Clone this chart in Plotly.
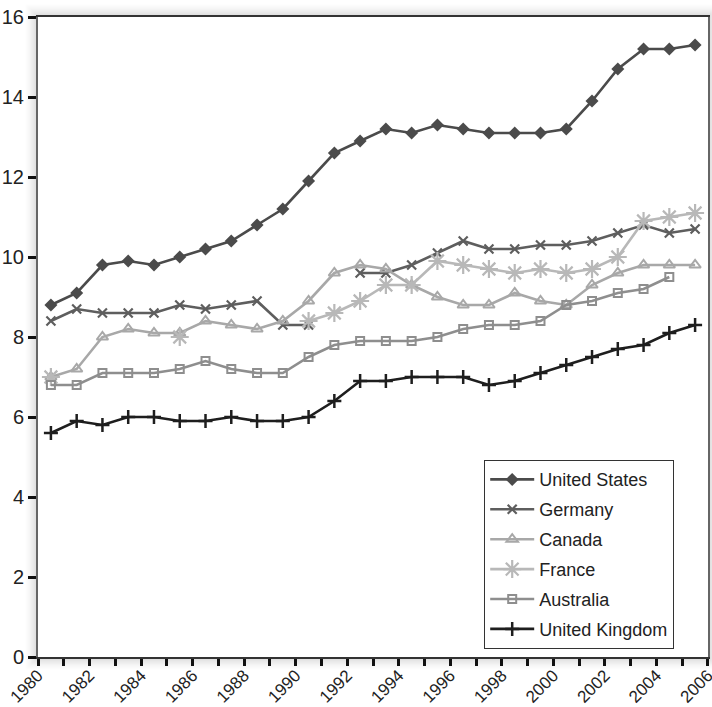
import plotly.graph_objects as go

years = list(range(1980, 2006))

united_states = [8.8, 9.1, 9.8, 9.9, 9.8, 10.0, 10.2, 10.4, 10.8, 11.2, 11.9, 12.6, 12.9,
                 13.2, 13.1, 13.3, 13.2, 13.1, 13.1, 13.1, 13.2, 13.9, 14.7, 15.2, 15.2, 15.3]
germany = [8.4, 8.7, 8.6, 8.6, 8.6, 8.8, 8.7, 8.8, 8.9, 8.3, 8.3, None, 9.6,
           9.6, 9.8, 10.1, 10.4, 10.2, 10.2, 10.3, 10.3, 10.4, 10.6, 10.8, 10.6, 10.7]
canada = [7.0, 7.2, 8.0, 8.2, 8.1, 8.1, 8.4, 8.3, 8.2, 8.4, 8.9, 9.6, 9.8,
          9.7, 9.3, 9.0, 8.8, 8.8, 9.1, 8.9, 8.8, 9.3, 9.6, 9.8, 9.8, 9.8]
france = [7.0, None, None, None, None, 8.0, None, None, None, None, 8.4, 8.6, 8.9,
          9.3, 9.3, 9.9, 9.8, 9.7, 9.6, 9.7, 9.6, 9.7, 10.0, 10.9, 11.0, 11.1]
australia = [6.8, 6.8, 7.1, 7.1, 7.1, 7.2, 7.4, 7.2, 7.1, 7.1, 7.5, 7.8, 7.9,
             7.9, 7.9, 8.0, 8.2, 8.3, 8.3, 8.4, 8.8, 8.9, 9.1, 9.2, 9.5, None]
united_kingdom = [5.6, 5.9, 5.8, 6.0, 6.0, 5.9, 5.9, 6.0, 5.9, 5.9, 6.0, 6.4, 6.9,
                  6.9, 7.0, 7.0, 7.0, 6.8, 6.9, 7.1, 7.3, 7.5, 7.7, 7.8, 8.1, 8.3]

tick_years = list(range(1980, 2007, 2))

# points sit at the centre of each year's category slot
xpos = [y + 0.5 for y in years]

series = [
    ("United States", united_states, "#4b4b4b", "diamond", 10, 0),
    ("Germany", germany, "#5e5e5e", "x-thin", 9, 2.2),
    ("Canada", canada, "#a8a8a8", "triangle-up-open", 10, 2),
    ("France", france, "#b8b8b8", "asterisk-open", 15, 2.2),
    ("Australia", australia, "#8e8e8e", "square-open", 8, 2),
    ("United Kingdom", united_kingdom, "#1e1e1e", "cross-thin", 10, 2.5),
]

fig = go.Figure()
for i, (name, vals, col, sym, size, mlw) in enumerate(series):
    fig.add_trace(go.Scatter(
        x=xpos, y=vals, name=name, mode="lines+markers",
        line=dict(color=col, width=2.6),
        marker=dict(symbol=sym, size=size, color=col,
                    line=dict(color=col, width=mlw)),
        connectgaps=False, legendgroup=f"g{i}",
    ))

# soft glow around plot area (outlines only)
shapes = []
W, H = 670.0, 640.0
for d in range(1, 14):
    a = 0.16 * (1 - d / 14.0) ** 1.5
    shapes.append(dict(type="rect", xref="paper", yref="paper",
                       x0=-d / W, x1=1 + d / W, y0=-d / H, y1=1 + d / H,
                       line=dict(width=1, color=f"rgba(0,0,0,{a:.3f})"),
                       layer="below"))

fig.update_layout(
    template="none",
    width=712, height=707,
    margin=dict(l=38, r=4, t=17, b=50),
    paper_bgcolor="white", plot_bgcolor="white",
    font=dict(family="Liberation Sans, Arial, sans-serif", color="#222"),
    showlegend=True,
    legend=dict(x=(484 - 38) / W, y=(657 - 649) / H, xanchor="left", yanchor="bottom",
                bgcolor="white", bordercolor="#333", borderwidth=1.2,
                font=dict(size=18, color="#222"), itemwidth=44,
                traceorder="grouped", tracegroupgap=3.5),
    shapes=shapes,
    xaxis=dict(range=[1979.999, 2006.001], tickmode="array", tickvals=tick_years,
               ticktext=[str(t) for t in tick_years], tickangle=-45,
               ticks="outside", ticklen=7, tickwidth=2.5, tickcolor="#111",
               minor=dict(dtick=1, tick0=1980, ticks="outside", ticklen=7,
                          tickwidth=2.5, tickcolor="#111", showgrid=False),
               showline=True, linecolor="#333", linewidth=2, mirror=True,
               showgrid=False, zeroline=False, automargin=False,
               ticklabeloverflow="allow", ticklabelstandoff=-7,
               tickfont=dict(size=17, color="#222")),
    yaxis=dict(range=[0, 16], dtick=2, ticks="outside", ticklen=8, tickwidth=2.5,
               tickcolor="#111", showline=True, linecolor="#666", linewidth=2,
               mirror=True, showgrid=False, zeroline=False, automargin=False,
               tickfont=dict(size=20, color="#222")),
)

fig.write_html("out.html", config={"displayModeBar": False},
               post_script="document.body.style.margin='0';document.body.style.overflow='hidden';")
